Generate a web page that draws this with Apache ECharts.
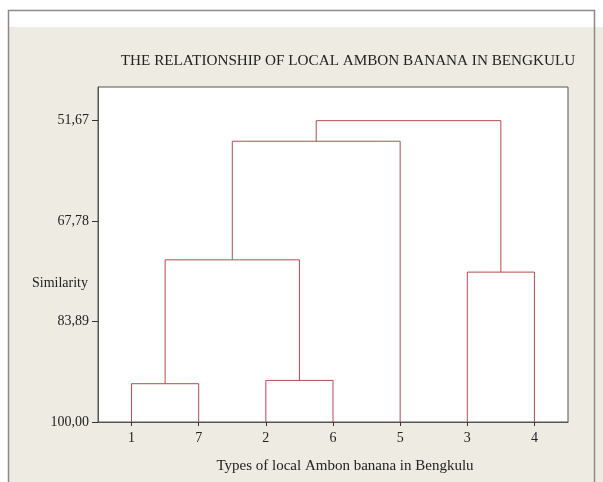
<!DOCTYPE html>
<html>
<head>
<meta charset="utf-8">
<script src="https://cdn.jsdelivr.net/npm/echarts@6/dist/echarts.min.js"></script>
<style>
  html, body { margin: 0; padding: 0; background: #fff; }
  #dendro { width: 603px; height: 482px; }
</style>
</head>
<body>
<div id="dendro"></div>
<script>
var dom = document.getElementById("dendro");
var myChart = echarts.init(dom);

// leaves in the order they are drawn
var leaves = ['1', '7', '2', '6', '5', '3', '4'];
// tick values on the similarity axis and their labels
var simTicks = [51.67, 67.78, 83.89, 100.00];
var simTickLabels = ['51,67', '67,78', '83,89', '100,00'];
// merges: [left node, right node, similarity]; nodes 0-6 are leaves, 7.. are merges in order
var merges = [
    [0, 1, 93.86],   // 7 : 1 + 7
    [2, 3, 93.33],   // 8 : 2 + 6
    [5, 6, 75.96],   // 9 : 3 + 4
    [7, 8, 73.99],   // 10
    [10, 4, 54.97],  // 11 : + 5
    [11, 9, 51.67]   // 12
];

// position / height of each node
var nodeX = leaves.map(function (l, i) { return i; });
var nodeH = leaves.map(function () { return 100; });
var series = [];
merges.forEach(function (m) {
    var a = m[0], b = m[1], h = m[2];
    series.push({
        type: 'line',
        silent: true,
        symbol: 'none',
        lineStyle: { color: '#b84a4c', width: 1 },
        data: [[nodeX[a], nodeH[a]], [nodeX[a], h], [nodeX[b], h], [nodeX[b], nodeH[b]]]
    });
    nodeX.push((nodeX[a] + nodeX[b]) / 2);
    nodeH.push(h);
});

var txt = '#222';
var serif = 'Liberation Serif';

option = {
    backgroundColor: '#ffffff',
    animation: false,
    graphic: [
        { type: 'rect', z: -10, shape: { x: 9, y: 27, width: 594, height: 455 }, style: { fill: '#eeebe2' } },
        { type: 'rect', z: -9, shape: { x: 8.5, y: 10.5, width: 586, height: 490 },
          style: { fill: null, stroke: '#8a8a8a', lineWidth: 1.5 } }
    ],
    title: [
        { text: 'THE RELATIONSHIP OF LOCAL AMBON BANANA IN BENGKULU', left: 343, top: 49, textAlign: 'center',
          textStyle: { fontFamily: serif, fontSize: 15.2, fontWeight: 'normal', color: txt } },
        { text: 'Similarity', left: 27, top: 271,
          textStyle: { fontFamily: serif, fontSize: 14, fontWeight: 'normal', color: txt } },
        { text: 'Types of local Ambon banana in Bengkulu', left: 340, top: 454, textAlign: 'center',
          textStyle: { fontFamily: serif, fontSize: 15, fontWeight: 'normal', color: txt } }
    ],
    grid: {
        left: 98, top: 87, right: 35, bottom: 60,
        show: true, backgroundColor: '#ffffff', borderColor: '#555', borderWidth: 1
    },
    xAxis: {
        type: 'value', min: -0.5, max: 6.5,
        splitLine: { show: false },
        axisLine: { show: true, onZero: false, lineStyle: { color: '#555' } },
        axisTick: { show: true, customValues: [0, 1, 2, 3, 4, 5, 6], length: 4, lineStyle: { color: '#333' } },
        axisLabel: {
            customValues: [0, 1, 2, 3, 4, 5, 6], margin: 9,
            formatter: function (v) { return leaves[Math.round(v)]; },
            fontFamily: serif, fontSize: 14, color: txt
        }
    },
    yAxis: {
        type: 'value', inverse: true, min: 46.27, max: 100,
        splitLine: { show: false },
        axisLine: { show: true, onZero: false, lineStyle: { color: '#555' } },
        axisTick: { show: true, customValues: simTicks, length: 6, lineStyle: { color: '#333' } },
        axisLabel: {
            customValues: simTicks, margin: 9,
            formatter: function (v) { return simTickLabels[simTicks.indexOf(v)]; },
            fontFamily: serif, fontSize: 14, color: txt
        }
    },
    series: series
};

if (option && typeof option === "object") {
    myChart.setOption(option, true);
}
</script>
</body>
</html>
